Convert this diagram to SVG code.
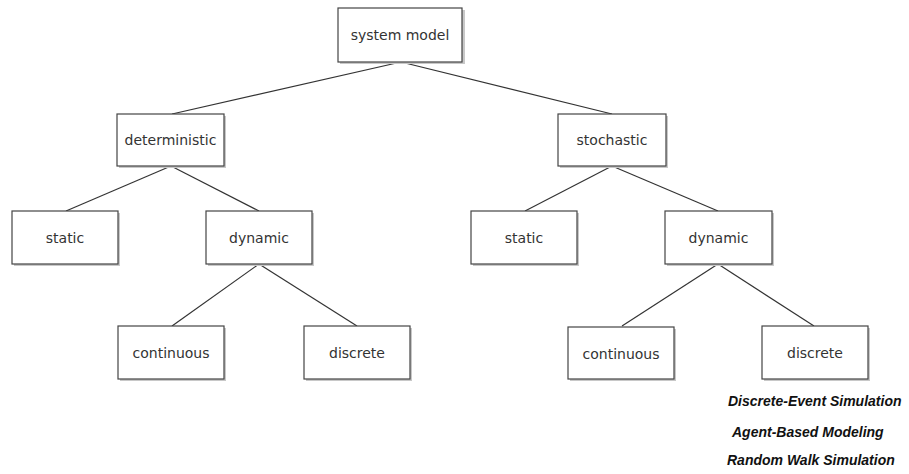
<svg xmlns="http://www.w3.org/2000/svg" width="909" height="474" viewBox="0 0 909 474">
<defs>
<style>
.box{fill:#fff;stroke:#444;stroke-width:1.2}
.sh{fill:#c8c8c8}
.lbl{font-family:"DejaVu Sans",Verdana,sans-serif;font-size:14px;fill:#333;text-anchor:middle}
.note{font-family:"Liberation Sans",Arial,sans-serif;font-size:14px;font-weight:bold;font-style:italic;fill:#111}
.edge{stroke:#333;stroke-width:1.2;fill:none}
</style>
</defs>
<rect width="909" height="474" fill="#fff"/>
<g id="connectors">
<line class="edge" x1="401" y1="62" x2="172" y2="114"/>
<line class="edge" x1="401" y1="62" x2="612" y2="114"/>
<line class="edge" x1="171" y1="166" x2="66" y2="211"/>
<line class="edge" x1="171" y1="166" x2="259" y2="211"/>
<line class="edge" x1="612" y1="166" x2="525" y2="211"/>
<line class="edge" x1="612" y1="166" x2="718" y2="211"/>
<line class="edge" x1="259" y1="264" x2="172" y2="326"/>
<line class="edge" x1="259" y1="264" x2="357" y2="326"/>
<line class="edge" x1="718" y1="264" x2="622" y2="326"/>
<line class="edge" x1="718" y1="264" x2="814" y2="326"/>
</g>
<g id="n-system-model"><rect class="sh" x="340" y="10" width="125" height="54"/><rect class="box" x="338" y="8" width="124" height="54"/><text class="lbl" x="400" y="40">system model</text></g>
<g id="n-deterministic"><rect class="sh" x="119" y="116" width="107" height="52"/><rect class="box" x="117" y="114" width="107" height="52"/><text class="lbl" x="170.5" y="145">deterministic</text></g>
<g id="n-stochastic"><rect class="sh" x="560" y="116" width="108" height="52"/><rect class="box" x="558" y="114" width="108" height="52"/><text class="lbl" x="612" y="145">stochastic</text></g>
<g id="n-static-l"><rect class="sh" x="14" y="213" width="106" height="53"/><rect class="box" x="12" y="211" width="106" height="53"/><text class="lbl" x="65" y="243">static</text></g>
<g id="n-dynamic-l"><rect class="sh" x="208" y="213" width="106" height="53"/><rect class="box" x="206" y="211" width="106" height="53"/><text class="lbl" x="259" y="243">dynamic</text></g>
<g id="n-static-r"><rect class="sh" x="473" y="213" width="106" height="53"/><rect class="box" x="471" y="211" width="106" height="53"/><text class="lbl" x="524" y="243">static</text></g>
<g id="n-dynamic-r"><rect class="sh" x="667" y="213" width="107" height="53"/><rect class="box" x="665" y="211" width="107" height="53"/><text class="lbl" x="718.5" y="243">dynamic</text></g>
<g id="n-continuous-l"><rect class="sh" x="120" y="328" width="106" height="53"/><rect class="box" x="118" y="326" width="106" height="53"/><text class="lbl" x="171" y="358">continuous</text></g>
<g id="n-discrete-l"><rect class="sh" x="306" y="328" width="106" height="53"/><rect class="box" x="304" y="326" width="106" height="53"/><text class="lbl" x="357" y="358">discrete</text></g>
<g id="n-continuous-r"><rect class="sh" x="570" y="329" width="106" height="52"/><rect class="box" x="568" y="327" width="106" height="52"/><text class="lbl" x="621" y="359">continuous</text></g>
<g id="n-discrete-r"><rect class="sh" x="764" y="328" width="106" height="53"/><rect class="box" x="762" y="326" width="106" height="53"/><text class="lbl" x="815" y="358">discrete</text></g>
<g id="notes">
<text class="note" x="728" y="406">Discrete-Event Simulation</text>
<text class="note" x="732" y="437">Agent-Based Modeling</text>
<text class="note" x="727" y="465">Random Walk Simulation</text>
</g>
</svg>
